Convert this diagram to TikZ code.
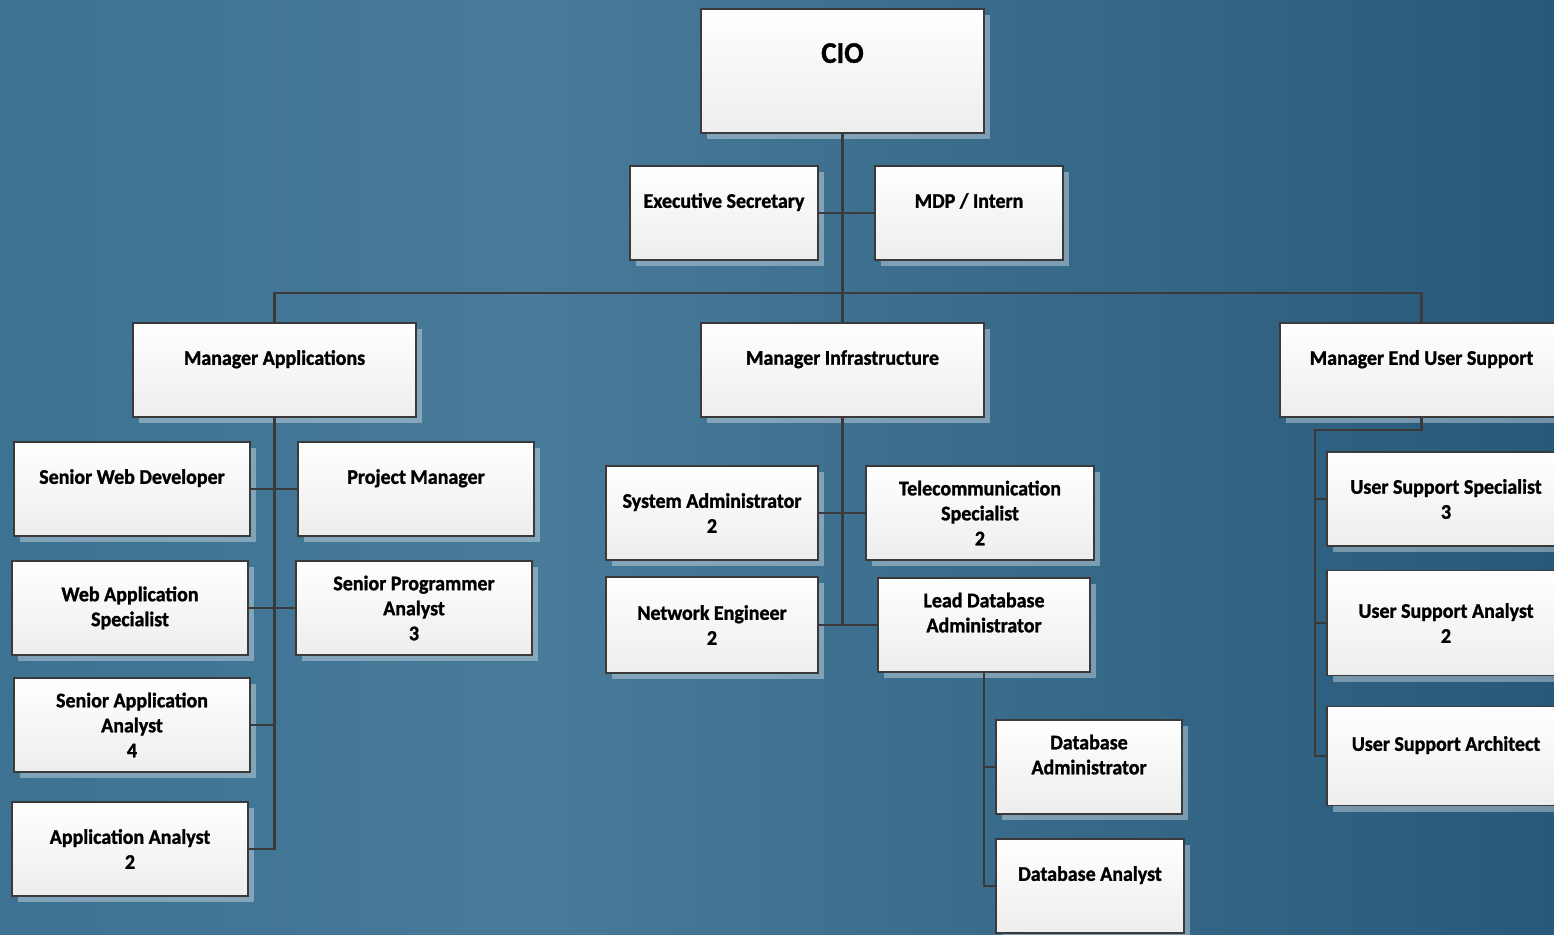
\documentclass[tikz,border=0pt]{standalone}
\usepackage{fontspec}
\setmainfont{Carlito}[BoldFeatures={FakeBold=1.3,FakeStretch=0.96}]
\usetikzlibrary{shadows}
\definecolor{bgleft}{HTML}{3D7293}
\definecolor{bgmid}{HTML}{487A99}
\definecolor{bgright}{HTML}{28597A}
\definecolor{wire}{HTML}{3A3A3A}
\pgfdeclarehorizontalshading{backdrop}{100bp}{color(0bp)=(bgleft); color(25bp)=(bgleft); color(42bp)=(bgmid); color(75bp)=(bgright); color(100bp)=(bgright)}
\tikzstyle{role}=[draw=wire, line width=0.6pt, top color=white, bottom color=black!7,
  minimum height=47pt, inner sep=0pt, align=center,
  font=\bfseries\fontsize{10.4}{12.5}\selectfont,
  drop shadow={shadow xshift=3pt, shadow yshift=-3pt, fill=white, opacity=0.35}]
\tikzstyle{link}=[draw=wire, line width=1.1pt]

\begin{document}
\begin{tikzpicture}[x=0.5pt, y=-0.5pt]
\useasboundingbox (0,0) rectangle (1554,934);
\clip (0,0) rectangle (1554,934);
\shade[shading=backdrop] (0,0) rectangle (1554,934);

% top of the chart
\node[role, minimum width=141.5pt, minimum height=62pt, font=\bfseries\fontsize{15}{18}\selectfont] (cio) at (842.5,71) {CIO\\ \mbox{}};
\node[role, minimum width=94pt] (secr) at (724,213) {Executive Secretary\\ \mbox{}};
\node[role, minimum width=94pt] (intern) at (969,213) {MDP / Intern\\ \mbox{}};
\node[role, minimum width=141.5pt] (apps) at (274.5,370) {Manager Applications\\ \mbox{}};
\node[role, minimum width=141.5pt] (infra) at (842.5,370) {Manager Infrastructure\\ \mbox{}};
\node[role, minimum width=141.5pt] (eus) at (1421.5,370) {Manager End User Support\\ \mbox{}};

% applications
\node[role, minimum width=118pt] (webdev) at (132,489) {Senior Web Developer\\ \mbox{}};
\node[role, minimum width=118pt] (pm) at (416,489) {Project Manager\\ \mbox{}};
\node[role, minimum width=118pt] (webapp) at (130,608) {Web Application\\Specialist};
\node[role, minimum width=118pt] (spa) at (414,608) {Senior Programmer\\Analyst\\3};
\node[role, minimum width=118pt] (saa) at (132,725) {Senior Application\\Analyst\\4};
\node[role, minimum width=118pt] (aa) at (130,849) {Application Analyst\\2};

% infrastructure
\node[role, minimum width=106pt] (sysadm) at (712,513) {System Administrator\\2};
\node[role, minimum width=114pt] (telecom) at (980,513) {Telecommunication\\Specialist\\2};
\node[role, minimum width=106pt, minimum height=48pt] (neteng) at (712,625) {Network Engineer\\2};
\node[role, minimum width=106pt] (leaddba) at (984,625) {Lead Database\\Administrator\\ \mbox{}};
\node[role, minimum width=93pt] (dba) at (1089,767) {Database\\Administrator\\ \mbox{}};
\node[role, minimum width=94pt] (dbanalyst) at (1090,886) {Database Analyst\\ \mbox{}};

% end user support
\node[role, minimum width=119pt] (ussp) at (1446,499) {User Support Specialist\\3};
\node[role, minimum width=119pt, minimum height=52.5pt] (usan) at (1446,623) {User Support Analyst\\2};
\node[role, minimum width=119pt, minimum height=49.5pt] (usarch) at (1446,756) {User Support Architect\\ \mbox{}};

\coordinate (bus) at (842.5,293);
\coordinate (eusbus) at (1315,430);
\draw[link] (cio) -- (infra);
\draw[link] (secr) -- (intern);
\draw[link] (apps.north) |- (bus) -| (eus.north);
\draw[link] (apps.south) |- (aa.east);
\draw[link] (webdev) -- (pm);
\draw[link] (webapp) -- (spa);
\draw[link] (saa.east) -- (saa.east -| apps.south);
\draw[link] (infra.south) -- (infra.south |- leaddba.west);
\draw[link] (sysadm) -- (telecom);
\draw[link] (neteng) -- (leaddba);
\draw[link] (leaddba.south) |- (dbanalyst.west);
\draw[link] (dba.west) -- (dba.west -| leaddba.south);
\draw[link] (eus.south) |- (eusbus) |- (usarch.west);
\draw[link] (ussp.west) -- (ussp.west -| eusbus);
\draw[link] (usan.west) -- (usan.west -| eusbus);
\end{tikzpicture}
\end{document}
